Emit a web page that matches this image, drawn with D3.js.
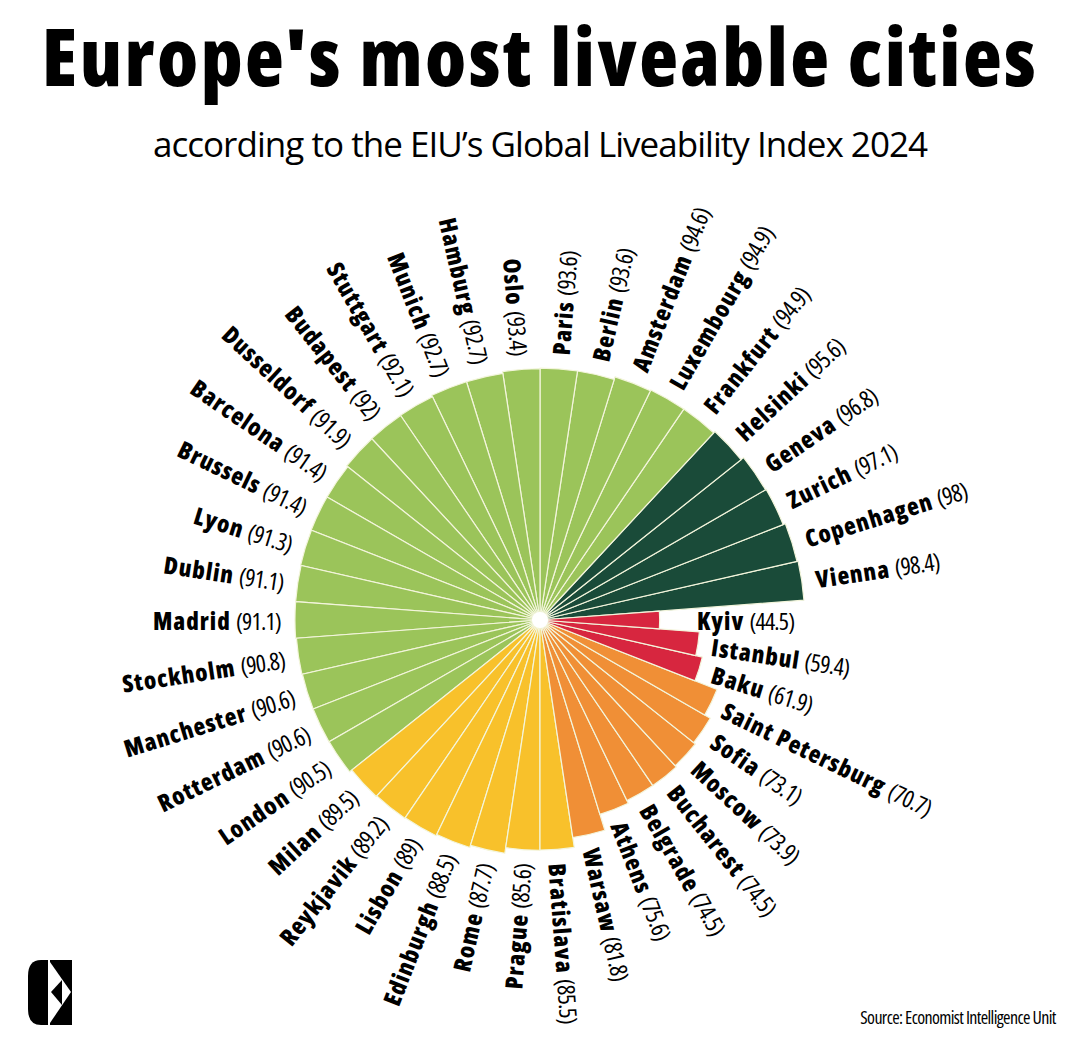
<!DOCTYPE html>
<html lang="en">
<head>
  <meta charset="UTF-8">
  <script src="https://d3js.org/d3.v7.min.js"></script>
  <title>Europe's most liveable cities</title>
  <style>
    body { margin: 0; background: #fff; }
  </style>
</head>
<body>
<script>
  /*
    Data
  */
  const cities = ["Vienna", "Copenhagen", "Zurich", "Geneva", "Helsinki", "Frankfurt",
    "Luxembourg", "Amsterdam", "Berlin", "Paris", "Oslo", "Hamburg", "Munich", "Stuttgart",
    "Budapest", "Dusseldorf", "Barcelona", "Brussels", "Lyon", "Dublin", "Madrid",
    "Stockholm", "Manchester", "Rotterdam", "London", "Milan", "Reykjavik", "Lisbon",
    "Edinburgh", "Rome", "Prague", "Bratislava", "Warsaw", "Athens", "Belgrade",
    "Bucharest", "Moscow", "Sofia", "Saint Petersburg", "Baku", "Istanbul", "Kyiv"]
  const scores = [98.4, 98, 97.1, 96.8, 95.6, 94.9,
    94.9, 94.6, 93.6, 93.6, 93.4, 92.7, 92.7, 92.1,
    92, 91.9, 91.4, 91.4, 91.3, 91.1, 91.1,
    90.8, 90.6, 90.6, 90.5, 89.5, 89.2, 89,
    88.5, 87.7, 85.6, 85.5, 81.8, 75.6, 74.5,
    74.5, 73.9, 73.1, 70.7, 61.9, 59.4, 44.5]
  const scoreLabels = ["98.4", "98", "97.1", "96.8", "95.6", "94.9",
    "94.9", "94.6", "93.6", "93.6", "93.4", "92.7", "92.7", "92.1",
    "92", "91.9", "91.4", "91.4", "91.3", "91.1", "91.1",
    "90.8", "90.6", "90.6", "90.5", "89.5", "89.2", "89",
    "88.5", "87.7", "85.6", "85.5", "81.8", "75.6", "74.5",
    "74.5", "73.9", "73.1", "70.7", "61.9", "59.4", "44.5"]
  const colorBreaks = [65, 85, 90, 95]
  const colorList = ["#d7263f", "#f08f36", "#f8c12b", "#9bc45a", "#1a4b39"]

  /*
    Constants
  */
  const width = 1079
  const height = 1046
  const cx = 540
  const cy = 620
  const font = "'Open Sans', 'DejaVu Sans Condensed', sans-serif"

  const data = cities.map((c, i) => ({ city: c, value: scores[i], label: scoreLabels[i] }))

  let svg = d3.select("body").append("svg")
    .attr("width", width)
    .attr("height", height)

  /*
    Pick the font width (75%..100%) that brings a text closest to w
  */
  function fitStretch(sel, w) {
    let best = 75, bestDiff = Infinity
    for (let s = 75; s <= 100; s++) {
      sel.style("font-stretch", s + "%")
      let diff = Math.abs(sel.node().getComputedTextLength() - w)
      if (diff < bestDiff) { bestDiff = diff; best = s }
    }
    sel.style("font-stretch", best + "%")
    let len = sel.node().getComputedTextLength()
    let extra = (w - len) / (sel.text().length - 1)
    sel.style("letter-spacing", extra.toFixed(2) + "px")
  }

  // Title
  let title = svg.append("text")
    .attr("x", 540).attr("y", 86)
    .attr("text-anchor", "middle")
    .style("font-family", font)
    .style("font-weight", 800)
    .style("font-size", "80px")
    .text("Europe's most liveable cities")
  fitStretch(title, 994)

  let sub = svg.append("text")
    .attr("x", 540).attr("y", 157)
    .attr("text-anchor", "middle")
    .style("font-family", font)
    .style("font-size", "35px")
    .text("according to the EIU\u2019s Global Liveability Index 2024")
  fitStretch(sub, 775)

  /*
    Scales
  */
  const n = cities.length
  const step = 2 * Math.PI / n
  // counterclockwise from the right, first slice just above horizontal
  const angle = d3.scaleBand()
    .domain(cities)
    .range([Math.PI / 2 - step / 2, Math.PI / 2 - step / 2 - 2 * Math.PI])
  const radius = d3.scaleLinear().domain([0, 100]).range([0, 269])
  const color = d3.scaleThreshold().domain(colorBreaks).range(colorList)

  const arc = d3.arc()
    .innerRadius(0)
    .outerRadius(d => radius(d.value))
    .startAngle(d => angle(d.city))
    .endAngle(d => angle(d.city) + angle.bandwidth())

  let g = svg.append("g").attr("transform", `translate(${cx},${cy})`)

  g.selectAll("path.bar")
    .data(data)
    .enter()
    .append("path")
    .attr("class", "bar")
    .attr("d", arc)
    .style("fill", d => color(d.value))
    .style("stroke", "#f3f5dc")
    .style("stroke-width", 1.2)
    .style("stroke-linejoin", "round")

  g.append("circle").attr("r", 8).style("fill", "#fff")

  // Labels
  let labels = g.selectAll("text.lab")
    .data(data)
    .enter()
    .append("text")
    .attr("class", "lab")
    .attr("transform", d => {
      let phi = angle(d.city) + angle.bandwidth() / 2
      let r = Math.max(radius(d.value), 143) + 14
      let x = r * Math.sin(phi)
      let y = -r * Math.cos(phi)
      let deg = phi * 180 / Math.PI
      let rot = Math.sin(phi) > 0 ? deg - 90 : deg + 90
      return `translate(${x},${y}) rotate(${rot})`
    })
    .attr("text-anchor", d => Math.sin(angle(d.city) + angle.bandwidth() / 2) > 0 ? "start" : "end")
    .attr("dominant-baseline", "central")
    .style("font-family", font)
    .style("font-size", "24px")

  labels.append("tspan")
    .style("font-stretch", "75%")
    .style("font-weight", 800)
    .style("letter-spacing", "1px")
    .text(d => d.city + " ")

  labels.append("tspan")
    .style("font-stretch", "75%")
    .style("letter-spacing", "-0.8px")
    .text(d => "(" + d.label + ")")

  // Source
  let src = svg.append("text")
    .attr("x", 958).attr("y", 1024)
    .attr("text-anchor", "middle")
    .style("font-family", font)
    .style("font-size", "18px")
    .text("Source: Economist Intelligence Unit")
  fitStretch(src, 196)

  // Logo
  let logo = svg.append("g")
  logo.append("path")
    .attr("d", "M48,960 L41,960 Q28,960 28,976 L28,1009 Q28,1025 41,1025 L48,1025 Z")
    .style("fill", "#000")
  logo.append("rect")
    .attr("x", 50).attr("y", 960).attr("width", 22).attr("height", 65)
    .style("fill", "#000")
  logo.append("path")
    .attr("d", "M50,962 L71,992 L50,1023 Z")
    .style("fill", "#fff")
  logo.append("path")
    .attr("d", "M51,992 L62,980 L62,1005 Z")
    .style("fill", "#000")
</script>
</body>
</html>
